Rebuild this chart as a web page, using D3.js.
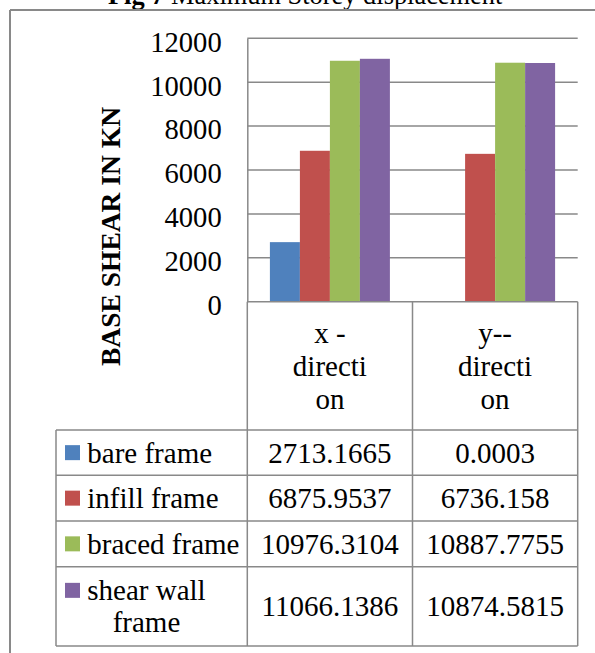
<!DOCTYPE html>
<html>
<head>
<meta charset="utf-8">
<script src="https://cdn.jsdelivr.net/npm/d3@7"></script>
<style>
  html, body { margin: 0; padding: 0; background: #fff; }
  svg { display: block; }
  text { font-family: "Liberation Serif", "Times New Roman", serif; fill: #000; }
</style>
</head>
<body>
<svg id="chart" width="595" height="653"></svg>
<script>
// Base shear per frame type, for the two loading directions
const categories = ["x - direction", "y-- direction"];
const categoryLines = [["x -", "directi", "on"], ["y--", "directi", "on"]];
const seriesNames = ["bare frame", "infill frame", "braced frame", "shear wall frame"];
const seriesLines = [["bare frame"], ["infill frame"], ["braced frame"], ["shear wall", "frame"]];
const seriesColors = ["#4F81BD", "#C0504D", "#9BBB59", "#8064A2"];
const bareFrame = ["2713.1665", "0.0003"];
const infillFrame = ["6875.9537", "6736.158"];
const bracedFrame = ["10976.3104", "10887.7755"];
const shearWallFrame = ["11066.1386", "10874.5815"];
const seriesValues = [bareFrame, infillFrame, bracedFrame, shearWallFrame];
const yTicks = [0, 2000, 4000, 6000, 8000, 10000, 12000];
const yTitle = "BASE SHEAR IN KN";

const svg = d3.select("#chart");
const grey = "#898989";

// caption (mostly above the page edge)
const cap = svg.append("text").attr("x", 108).attr("y", 4).style("font-size", "26.4px");
cap.append("tspan").style("font-weight", "bold").text("Fig 7 ");
cap.append("tspan").text("Maximum Storey displacement");

// outer frame of the figure
svg.append("line").attr("x1", 10).attr("x2", 600).attr("y1", 10).attr("y2", 10)
  .attr("stroke", grey).attr("stroke-width", 2);
svg.append("line").attr("x1", 10).attr("x2", 10).attr("y1", 10).attr("y2", 660)
  .attr("stroke", grey).attr("stroke-width", 2);

// plot geometry
const plot = { left: 247.3, right: 577.7, top: 38.3, bottom: 301.7 };
const tableLeft = 56;
const rowEdges = [430, 475.3, 521, 566.7, 646];

const y = d3.scaleLinear().domain([0, 12000]).range([plot.bottom, plot.top]);
const x0 = d3.scaleBand().domain(categories).range([plot.left, plot.right]);
const groupW = 120;
const x1 = d3.scaleBand().domain(seriesNames)
  .range([(x0.bandwidth() - groupW) / 2, (x0.bandwidth() + groupW) / 2]);

// gridlines
svg.append("g").selectAll("line").data(yTicks.filter(d => d > 0)).join("line")
  .attr("x1", plot.left).attr("x2", plot.right)
  .attr("y1", d => y(d)).attr("y2", d => y(d))
  .attr("stroke", grey).attr("stroke-width", 1.5);

// y axis via d3.axisLeft, styled as plain labels
const yAxis = svg.append("g").attr("transform", `translate(${plot.left},0)`)
  .call(d3.axisLeft(y).tickValues(yTicks).tickSize(0).tickPadding(25.6).tickFormat(d3.format("d")));
yAxis.select(".domain").attr("stroke", grey).attr("stroke-width", 1.5);
yAxis.selectAll("text").style("font-size", "28.6px").attr("dy", "0.38em")
  .attr("transform", "translate(0,2)");

// y title
svg.append("text")
  .attr("transform", "translate(110,236.5) rotate(-90)")
  .attr("text-anchor", "middle").attr("dominant-baseline", "central")
  .style("font-size", "27.5px").style("font-weight", "bold")
  .text(yTitle);

// bars
const bars = [];
categories.forEach((c, ci) => {
  seriesNames.forEach((s, si) => {
    bars.push({ c, s, color: seriesColors[si], v: +seriesValues[si][ci] });
  });
});
svg.append("g").selectAll("rect").data(bars).join("rect")
  .attr("x", d => x0(d.c) + x1(d.s))
  .attr("width", x1.bandwidth())
  .attr("y", d => y(d.v))
  .attr("height", d => y(0) - y(d.v))
  .attr("fill", d => d.color);

// baseline
svg.append("line").attr("x1", plot.left).attr("x2", plot.right)
  .attr("y1", plot.bottom).attr("y2", plot.bottom)
  .attr("stroke", grey).attr("stroke-width", 1.5);

// data table: category header cells
const tbl = svg.append("g");
const colEdges = [plot.left, x0(categories[1]), plot.right];
colEdges.forEach(xv => {
  tbl.append("line").attr("x1", xv).attr("x2", xv).attr("y1", plot.bottom).attr("y2", rowEdges[rowEdges.length - 1])
    .attr("stroke", grey).attr("stroke-width", 1.5);
});
tbl.append("line").attr("x1", tableLeft).attr("x2", tableLeft)
  .attr("y1", rowEdges[0]).attr("y2", rowEdges[rowEdges.length - 1])
  .attr("stroke", grey).attr("stroke-width", 1.5);
rowEdges.forEach(yv => {
  tbl.append("line").attr("x1", tableLeft).attr("x2", plot.right).attr("y1", yv).attr("y2", yv)
    .attr("stroke", grey).attr("stroke-width", 1.5);
});

const fs = "29px";
const lineH = 33;
const headMid = (plot.bottom + rowEdges[0]) / 2;
categories.forEach((c, ci) => {
  const lines = categoryLines[ci];
  const cx = x0(c) + x0.bandwidth() / 2;
  lines.forEach((ln, li) => {
    tbl.append("text").attr("x", cx)
      .attr("y", headMid + 10 + (li - (lines.length - 1) / 2) * lineH)
      .attr("text-anchor", "middle").style("font-size", fs).text(ln);
  });
});

// legend rows with values
seriesNames.forEach((s, si) => {
  const top = rowEdges[si], bot = rowEdges[si + 1];
  const mid = (top + bot) / 2;
  const lines = seriesLines[si];
  const firstBase = mid + 10 - (lines.length - 1) / 2 * 32;
  tbl.append("rect").attr("x", 65).attr("y", firstBase - 17.5).attr("width", 15).attr("height", 15)
    .attr("fill", seriesColors[si]);
  const first = tbl.append("text").attr("x", 87.3).attr("y", firstBase)
    .style("font-size", fs).text(lines[0]);
  const w = first.node().getComputedTextLength();
  lines.slice(1).forEach((ln, li) => {
    tbl.append("text").attr("x", 87.3 + w / 2).attr("y", firstBase + (li + 1) * 32)
      .attr("text-anchor", "middle").style("font-size", fs).text(ln);
  });
  categories.forEach((c, ci) => {
    tbl.append("text").attr("x", x0(c) + x0.bandwidth() / 2).attr("y", mid + 10)
      .attr("text-anchor", "middle").style("font-size", fs).text(seriesValues[si][ci]);
  });
});
</script>
</body>
</html>
